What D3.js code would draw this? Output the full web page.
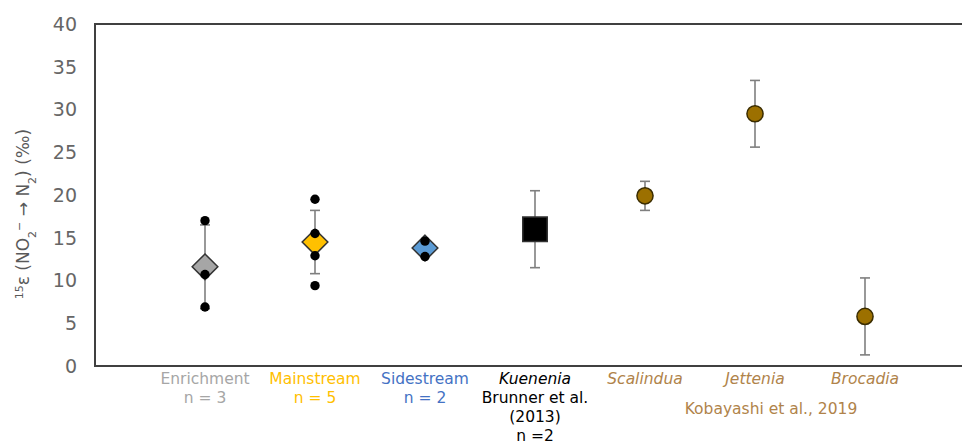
<!DOCTYPE html>
<html>
<head>
<meta charset="utf-8">
<script src="https://cdn.jsdelivr.net/npm/d3@7"></script>
<style>
  body { margin: 0; background: #fff; }
  svg { display: block; font-family: "DejaVu Sans", sans-serif; }
</style>
</head>
<body>
<div class="chart"></div>
<script>
// categories and values
var categories = ["Enrichment", "Mainstream", "Sidestream", "Kuenenia", "Scalindua", "Jettenia", "Brocadia"];
var means = [11.6, 14.5, 13.8, 16.0, 19.9, 29.5, 5.8];
var errors = [4.9, 3.7, 0.9, 4.5, 1.7, 3.9, 4.5];
var shapes = ["diamond", "diamond", "diamond", "square", "circle", "circle", "circle"];
var fills = ["#a6a6a6", "#ffc000", "#5b9bd5", "#000000", "#9c7000", "#9c7000", "#9c7000"];

// individual replicate points
var repCategory = ["Enrichment", "Enrichment", "Enrichment",
                   "Mainstream", "Mainstream", "Mainstream", "Mainstream",
                   "Sidestream", "Sidestream"];
var repValues = [17.0, 10.7, 6.9, 19.5, 15.5, 12.9, 9.4, 14.6, 12.8];

var yTicks = [0, 5, 10, 15, 20, 25, 30, 35, 40];

// label lines under each category
var labelLines = [
  [{t: "Enrichment", c: "#a6a6a6"}, {t: "n = 3", c: "#a6a6a6"}],
  [{t: "Mainstream", c: "#ffc000"}, {t: "n = 5", c: "#ffc000"}],
  [{t: "Sidestream", c: "#4472c4"}, {t: "n = 2", c: "#4472c4"}],
  [{t: "Kuenenia", c: "#000", i: true}, {t: "Brunner et al.", c: "#000"}, {t: "(2013)", c: "#000"}, {t: "n =2", c: "#000"}],
  [{t: "Scalindua", c: "#b0834a", i: true}],
  [{t: "Jettenia", c: "#b0834a", i: true}],
  [{t: "Brocadia", c: "#b0834a", i: true}]
];
var refLabel = "Kobayashi et al., 2019";

var W = 962, H = 444;
var Margin = {left: 95, top: 24, bottom: 78};

var svg = d3.select(".chart").append("svg")
  .attr("width", W)
  .attr("height", H);

var x = d3.scalePoint()
  .domain(categories)
  .range([205, 865]);

var y = d3.scaleLinear()
  .domain([0, 40])
  .range([H - Margin.bottom, Margin.top]);

// frame: left, top and bottom lines (right side is cut off)
svg.append("path")
  .attr("d", "M" + W + "," + y(40) + "H" + Margin.left + "V" + y(0) + "H" + W)
  .attr("fill", "none")
  .attr("stroke", "#404040")
  .attr("stroke-width", 2);

// y tick labels
svg.selectAll(".ytick").data(yTicks).enter().append("text")
  .attr("class", "ytick")
  .attr("x", 77)
  .attr("y", d => y(d))
  .attr("dy", "0.36em")
  .attr("text-anchor", "end")
  .style("font-size", "19px")
  .style("fill", "#666")
  .text(d => d);

// y axis title
var yt = svg.append("text")
  .attr("transform", "translate(29," + 214 + ") rotate(-90)")
  .attr("text-anchor", "middle")
  .style("font-size", "17px")
  .style("fill", "#595959");
yt.append("tspan").attr("baseline-shift", "super").style("font-size", "11px").text("15");
yt.append("tspan").text("ε (NO");
yt.append("tspan").attr("baseline-shift", "sub").style("font-size", "11px").text("2");
yt.append("tspan").attr("baseline-shift", "super").style("font-size", "11px").text("−");
yt.append("tspan").text(" → N");
yt.append("tspan").attr("baseline-shift", "sub").style("font-size", "11px").text("2");
yt.append("tspan").text(") (‰)");

var pts = categories.map((c, i) => ({c: c, m: means[i], e: errors[i], s: shapes[i], f: fills[i]}));

// error bars
var eb = svg.selectAll(".err").data(pts).enter().append("g").attr("class", "err")
  .attr("stroke", "#7f7f7f").attr("stroke-width", 1.6);
eb.append("line")
  .attr("x1", d => x(d.c)).attr("x2", d => x(d.c))
  .attr("y1", d => y(d.m - d.e)).attr("y2", d => y(d.m + d.e));
eb.append("line")
  .attr("x1", d => x(d.c) - 5).attr("x2", d => x(d.c) + 5)
  .attr("y1", d => y(d.m + d.e)).attr("y2", d => y(d.m + d.e));
eb.append("line")
  .attr("x1", d => x(d.c) - 5).attr("x2", d => x(d.c) + 5)
  .attr("y1", d => y(d.m - d.e)).attr("y2", d => y(d.m - d.e));

// mean markers
var sym = {
  diamond: d3.symbol().type(d3.symbolDiamond2).size(420),
  square: d3.symbol().type(d3.symbolSquare).size(600),
  circle: d3.symbol().type(d3.symbolCircle).size(205)
};
svg.selectAll(".mean").data(pts).enter().append("path")
  .attr("class", "mean")
  .attr("transform", d => "translate(" + x(d.c) + "," + y(d.m) + ")")
  .attr("d", d => sym[d.s]())
  .attr("fill", d => d.f)
  .attr("stroke", d => d.s === "circle" ? "#3a2c00" : "#333")
  .attr("stroke-width", 1.5);

// replicate dots
svg.selectAll(".rep").data(repValues).enter().append("circle")
  .attr("class", "rep")
  .attr("cx", (d, i) => x(repCategory[i]))
  .attr("cy", d => y(d))
  .attr("r", 4.7)
  .attr("fill", "#000");

// category labels
var lg = svg.selectAll(".lab").data(labelLines).enter().append("g").attr("class", "lab")
  .attr("transform", (d, i) => "translate(" + x(categories[i]) + ",0)");
lg.selectAll("text").data(d => d).enter().append("text")
  .attr("x", 0)
  .attr("y", (d, j) => 384 + j * 19)
  .attr("text-anchor", "middle")
  .style("font-size", "15.5px")
  .style("font-style", d => d.i ? "italic" : "normal")
  .style("fill", d => d.c)
  .text(d => d.t);

svg.append("text")
  .attr("x", 771)
  .attr("y", 414)
  .attr("text-anchor", "middle")
  .style("font-size", "15.5px")
  .style("fill", "#b0834a")
  .text(refLabel);
</script>
</body>
</html>
